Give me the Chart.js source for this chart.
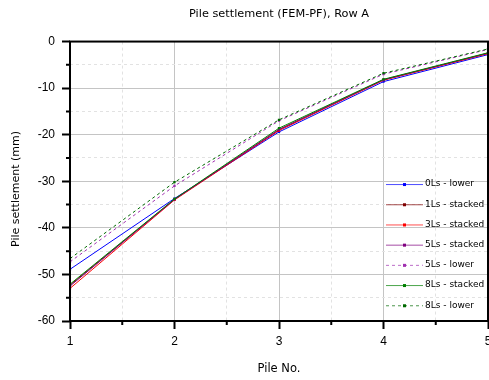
<!DOCTYPE html>
<html>
<head>
<meta charset="utf-8">
<title>Pile settlement (FEM-PF), Row A</title>
<script src="https://cdn.jsdelivr.net/npm/chart.js@4.4.0/dist/chart.umd.min.js"></script>
<style>
  html, body { margin: 0; padding: 0; background: #fff; }
  #wrap { width: 489px; height: 380px; }
</style>
</head>
<body>
<div id="wrap"><canvas id="chart" width="489" height="380"></canvas></div>
<script>
// pile numbers along x
const piles = [1, 2, 3, 4, 5];

// settlement per pile (mm)
const ls0Lower   = [-48.9, -33.7, -19.4, -8.6, -2.8];
const ls1Stacked = [-52.3, -33.9, -18.9, -8.2, -2.5];
const ls3Stacked = [-53.0, -34.0, -19.1, -8.3, -2.6];
const ls5Stacked = [-52.5, -33.9, -18.9, -8.2, -2.5];
const ls5Lower   = [-47.3, -31.0, -17.0, -7.0, -1.7];
const ls8Stacked = [-52.1, -33.8, -18.6, -8.1, -2.4];
const ls8Lower   = [-46.6, -30.2, -16.8, -6.8, -1.6];

const xTickLabels = [1, 2, 3, 4, 5];
const yTickLabels = [0, -10, -20, -30, -40, -50, -60];

const series = [
  { label: '0Ls - lower',   data: ls0Lower,   color: '#0000ff', dash: [] },
  { label: '1Ls - stacked', data: ls1Stacked, color: '#800000', dash: [] },
  { label: '3Ls - stacked', data: ls3Stacked, color: '#ff0000', dash: [] },
  { label: '5Ls - stacked', data: ls5Stacked, color: '#800080', dash: [] },
  { label: '5Ls - lower',   data: ls5Lower,   color: '#a030b0', dash: [3, 3] },
  { label: '8Ls - stacked', data: ls8Stacked, color: '#008000', dash: [] },
  { label: '8Ls - lower',   data: ls8Lower,   color: '#006a00', dash: [3, 3] }
];

// major + minor (halfway) positions
function withMinor(vals) {
  const sorted = vals.slice().sort((a, b) => a - b);
  const out = [];
  for (let i = 0; i < sorted.length; i++) {
    out.push(sorted[i]);
    if (i < sorted.length - 1) out.push((sorted[i] + sorted[i + 1]) / 2);
  }
  return out;
}
const xGrid = withMinor(xTickLabels);
const yGrid = withMinor(yTickLabels);

const isMajorX = v => xTickLabels.includes(v);
const isMajorY = v => yTickLabels.includes(v);

const datasets = series.map((s, i) => ({
  label: s.label,
  data: piles.map((p, j) => ({ x: p, y: s.data[j] })),
  borderColor: s.color,
  backgroundColor: s.color,
  borderWidth: 1,
  borderDash: s.dash,
  pointStyle: 'rect',
  pointRadius: 1.6,
  pointBorderWidth: 0,
  pointBackgroundColor: s.color,
  tension: 0,
  order: series.length - i
}));

const frame = {
  id: 'frame',
  afterDatasetsDraw(chart) {
    const { ctx, chartArea: a, scales } = chart;
    ctx.save();
    ctx.strokeStyle = '#000';
    ctx.lineWidth = 2;
    ctx.strokeRect(a.left, a.top, a.right - a.left, a.bottom - a.top);
    // short minor ticks
    ctx.beginPath();
    xGrid.filter(v => !isMajorX(v)).forEach(v => {
      const px = scales.x.getPixelForValue(v);
      ctx.moveTo(px, a.bottom);
      ctx.lineTo(px, a.bottom + 4);
    });
    yGrid.filter(v => !isMajorY(v)).forEach(v => {
      const py = scales.y.getPixelForValue(v);
      ctx.moveTo(a.left, py);
      ctx.lineTo(a.left - 4, py);
    });
    ctx.stroke();
    ctx.restore();
  }
};

const legendBox = {
  id: 'legendBox',
  afterDraw(chart) {
    const { ctx, chartArea: a } = chart;
    const x0 = a.right - 102;
    const y0 = a.top + 142.5;
    ctx.save();
    ctx.font = '9px "DejaVu Sans"';
    ctx.textBaseline = 'middle';
    ctx.textAlign = 'left';
    series.forEach((s, i) => {
      const y = y0 + i * 20.2;
      ctx.globalAlpha = 0.7;
      ctx.strokeStyle = s.color;
      ctx.lineWidth = 1;
      ctx.setLineDash(s.dash);
      ctx.beginPath();
      ctx.moveTo(x0, y + 0.5);
      ctx.lineTo(x0 + 37, y + 0.5);
      ctx.stroke();
      ctx.globalAlpha = 1;
      ctx.setLineDash([]);
      ctx.fillStyle = s.color;
      ctx.fillRect(x0 + 17, y - 1, 3, 3);
      ctx.fillStyle = '#000';
      ctx.fillText(s.label, x0 + 39, y);
    });
    ctx.restore();
  }
};

const yTitle = {
  id: 'yTitle',
  afterDraw(chart) {
    const ctx = chart.ctx;
    ctx.save();
    ctx.translate(16.5, 189);
    ctx.rotate(-Math.PI / 2);
    ctx.font = '11px "DejaVu Sans"';
    ctx.fillStyle = '#000';
    ctx.textAlign = 'center';
    ctx.textBaseline = 'middle';
    ctx.fillText('Pile settlement (mm)', 0, 0);
    ctx.restore();
  }
};

new Chart(document.getElementById('chart'), {
  type: 'line',
  data: { datasets: datasets },
  options: {
    responsive: false,
    devicePixelRatio: 1,
    animation: false,
    layout: { autoPadding: false, padding: { left: 0, right: 1, top: 0, bottom: 0 } },
    plugins: {
      legend: { display: false },
      tooltip: { enabled: false },
      title: {
        display: true,
        text: 'Pile settlement (FEM-PF), Row A',
        fullSize: false,
        color: '#000',
        font: { family: 'DejaVu Sans', size: 11.3, weight: 'normal' },
        padding: { top: 7.4, bottom: 20.6 }
      }
    },
    scales: {
      x: {
        type: 'linear',
        min: 1,
        max: 5,
        afterFit: s => { s.height = 59; s.paddingLeft = 0; s.paddingRight = 0; },
        afterBuildTicks: s => { s.ticks = xGrid.map(v => ({ value: v })); },
        ticks: {
          autoSkip: false,
          maxRotation: 0,
          padding: 5,
          color: '#000',
          font: { family: 'Liberation Sans', size: 12 },
          callback: v => isMajorX(v) ? String(v) : ''
        },
        grid: {
          color: c => (c.tick && isMajorX(c.tick.value)) ? '#c4c4c4' : '#e2e2e2',
          lineWidth: 1,
          tickLength: 8,
          tickWidth: 2,
          tickColor: c => (c.tick && isMajorX(c.tick.value)) ? '#000' : 'rgba(0,0,0,0)'
        },
        border: {
          display: false,
          dash: c => (c.tick && !isMajorX(c.tick.value)) ? [3, 3] : []
        },
        title: {
          display: true,
          text: 'Pile No.',
          color: '#000',
          font: { family: 'DejaVu Sans', size: 11.5 },
          padding: { top: 0, bottom: 3.6 }
        }
      },
      y: {
        min: -60,
        max: 0,
        afterFit: s => { s.width = 70; s.paddingTop = 0; s.paddingBottom = 0; },
        afterBuildTicks: s => { s.ticks = yGrid.map(v => ({ value: v })); },
        ticks: {
          autoSkip: false,
          padding: 7,
          color: '#000',
          font: { family: 'Liberation Sans', size: 12 },
          callback: v => isMajorY(v) ? String(v) : ''
        },
        grid: {
          color: c => (c.tick && isMajorY(c.tick.value)) ? '#c4c4c4' : '#e2e2e2',
          lineWidth: 1,
          tickLength: 8,
          tickWidth: 2,
          tickColor: c => (c.tick && isMajorY(c.tick.value)) ? '#000' : 'rgba(0,0,0,0)'
        },
        border: {
          display: false,
          dash: c => (c.tick && !isMajorY(c.tick.value)) ? [3, 3] : []
        }
      }
    }
  },
  plugins: [frame, legendBox, yTitle]
});
</script>
</body>
</html>
